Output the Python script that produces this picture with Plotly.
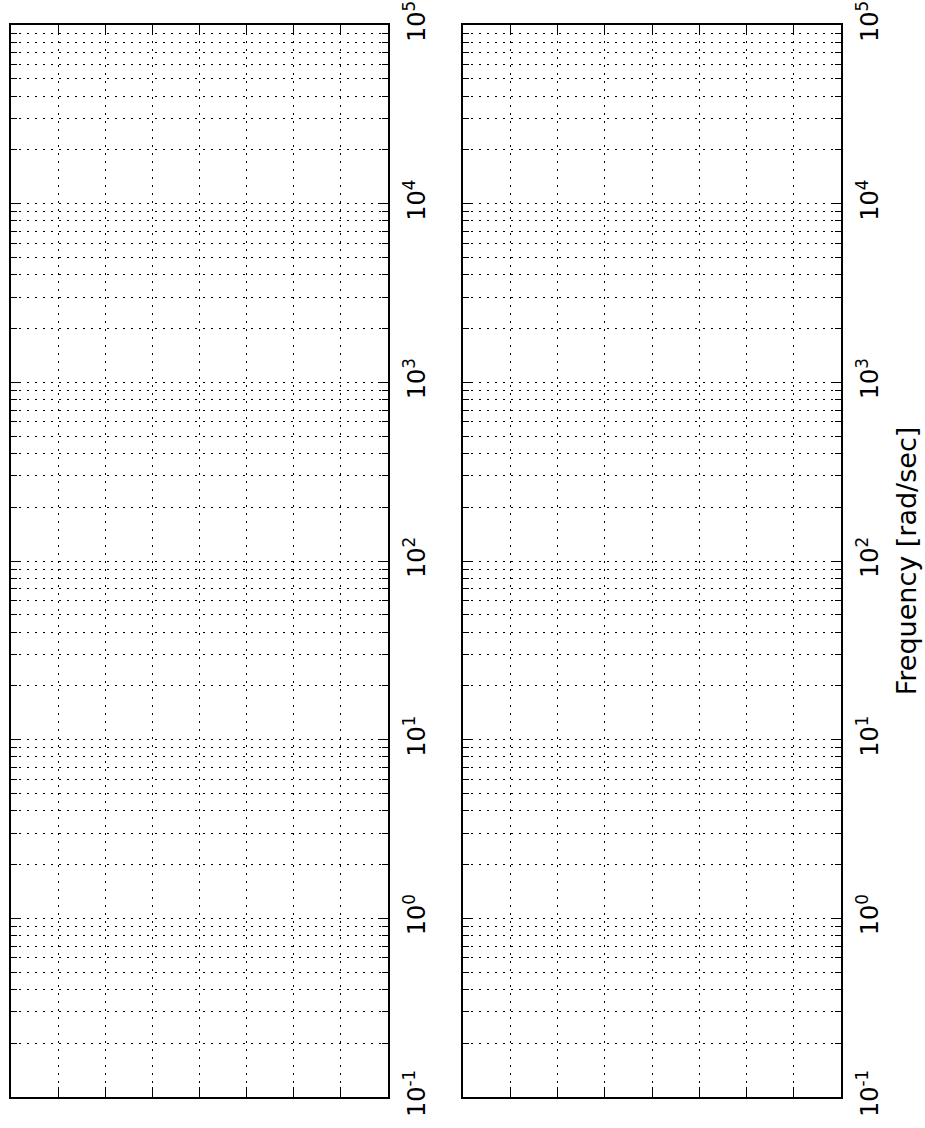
import plotly.graph_objects as go

# Data / tick definitions
decade_exponents = [-1, 0, 1, 2, 3, 4, 5]
decade_values = [10.0 ** e for e in decade_exponents]
decade_labels = ["10<sup>%d</sup>" % e for e in decade_exponents]
minor_mults = [2, 3, 4, 5, 6, 7, 8, 9]
minor_values = [m * 10.0 ** e for e in decade_exponents[:-1] for m in minor_mults]
horiz_ticks = [0, 1, 2, 3, 4, 5, 6, 7, 8]
axis_title = "Frequency [rad/sec]"

W, H = 925, 1128
ml, mt = 11, 25
mr = W - 841
mb = H - 1097
pw = W - ml - mr
d1 = [0, (388 - ml) / pw]
d2 = [(463 - ml) / pw, 1]

fig = go.Figure()
tick_font = dict(family="DejaVu Sans", size=24, color="black")
title_font = dict(family="DejaVu Sans", size=27, color="black")
dash = "2px,6px"

for i, dom in enumerate([d1, d2], start=1):
    xa = "xaxis" if i == 1 else "xaxis%d" % i
    ya = "yaxis" if i == 1 else "yaxis%d" % i
    xr = "x" if i == 1 else "x%d" % i
    yr = "y" if i == 1 else "y%d" % i
    fig.add_trace(go.Scatter(x=[None], y=[None], xaxis=xr, yaxis=yr,
                             showlegend=False, hoverinfo="skip"))
    fig.layout[xa] = dict(
        domain=dom, anchor=yr, range=[horiz_ticks[0], horiz_ticks[-1]],
        tickmode="array", tickvals=horiz_ticks, showticklabels=False,
        ticks="inside", ticklen=10, tickwidth=1, tickcolor="black",
        showline=True, linewidth=2, linecolor="black", mirror="ticks",
        showgrid=True, gridcolor="black", gridwidth=1, griddash=dash,
        zeroline=False,
    )
    ydict = dict(
        domain=[0, 1], anchor=xr, type="log", range=[-1, 5], side="right",
        tickmode="array", tickvals=decade_values, ticktext=decade_labels,
        tickangle=-90, tickfont=tick_font, ticklabelstandoff=6,
        ticklabeloverflow="allow",
        ticks="inside", ticklen=10, tickwidth=1, tickcolor="black",
        showline=True, linewidth=2, linecolor="black", mirror="ticks",
        showgrid=True, gridcolor="black", gridwidth=1, griddash=dash,
        zeroline=False,
        minor=dict(tickmode="array", tickvals=minor_values, ticks="inside",
                   ticklen=6, tickwidth=1, tickcolor="black",
                   showgrid=True, gridcolor="black", gridwidth=1, griddash=dash),
    )
    if i == 2:
        ydict["title"] = dict(text=axis_title, font=title_font, standoff=14)
    fig.layout[ya] = ydict

fig.update_layout(
    width=W, height=H, margin=dict(l=ml, r=mr, t=mt, b=mb, autoexpand=False),
    paper_bgcolor="white", plot_bgcolor="white", font=tick_font,
    showlegend=False,
)

fig.write_html(
    "out.html",
    config={"displayModeBar": False},
    post_script="document.body.style.margin='0';document.body.style.overflow='hidden';",
)
